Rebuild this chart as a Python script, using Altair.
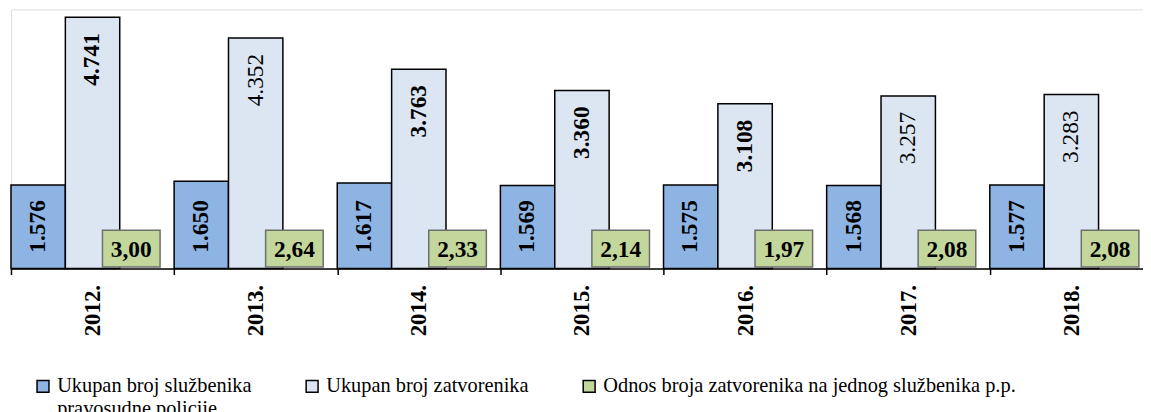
import altair as alt
import pandas as pd

years = ["2012.", "2013.", "2014.", "2015.", "2016.", "2017.", "2018."]
officers = [1576, 1650, 1617, 1569, 1575, 1568, 1577]
prisoners = [4741, 4352, 3763, 3360, 3108, 3257, 3283]
ratio = [3.00, 2.64, 2.33, 2.14, 1.97, 2.08, 2.08]
series = [
    "Ukupan broj službenika pravosudne policije",
    "Ukupan broj zatvorenika",
    "Odnos broja zatvorenika na jednog službenika p.p.",
]
colors = ["#8EB4E3", "#DCE6F2", "#C3D69B"]
# label weight as drawn in the source (bold / regular) for the prisoner labels
bold_prisoner_years = ["2012.", "2014.", "2015.", "2016."]

FONT = "Liberation Serif"
FS = 23.5

rows = []
for i, y in enumerate(years):
    rows.append({"year": y, "series": series[0], "value": officers[i]})
    rows.append({"year": y, "series": series[1], "value": prisoners[i]})
bars_df = pd.DataFrame(rows)
ratio_df = pd.DataFrame({"year": years, "ratio": ratio, "series": series[2]})
off_df = pd.DataFrame({"year": years, "value": officers})
pr_df = pd.DataFrame({"year": years, "value": prisoners,
                      "bold": [y in bold_prisoner_years for y in years]})

xscale = alt.X("year:N", sort=years,
               scale=alt.Scale(paddingInner=0, paddingOuter=0),
               axis=alt.Axis(title=None, labelAngle=270, labelFont=FONT,
                             labelFontSize=23, labelFontWeight="bold",
                             labelColor="black", domainColor="black",
                             domainWidth=1.5, tickColor="black", tickWidth=1.5,
                             tickSize=6, tickBand="extent", labelPadding=10,
                             labelAlign="right", labelBaseline="middle"))
yscale = alt.Scale(domain=[0, 4890], nice=False)

legend_expr = (
    "datum.label == '" + series[0] + "' ? ['Ukupan broj službenika', 'pravosudne policije'] "
    ": [datum.label, '']"
)

bars = alt.Chart(bars_df).mark_bar(stroke="black", strokeWidth=1.5).encode(
    x=xscale,
    xOffset=alt.XOffset("series:N", scale=alt.Scale(domain=series, paddingInner=0, paddingOuter=0)),
    y=alt.Y("value:Q", scale=yscale, axis=None),
    color=alt.Color("series:N", scale=alt.Scale(domain=series, range=colors),
                    legend=alt.Legend(
                        title=None, orient="none", direction="horizontal",
                        legendX=22, legendY=369, columns=3, columnPadding=50,
                        symbolType="square", symbolSize=144,
                        symbolStrokeColor="black", symbolStrokeWidth=1.5,
                        labelFont=FONT, labelFontSize=20.5, labelColor="black",
                        labelOffset=4, labelLimit=700, padding=0,
                        labelExpr=legend_expr,
                        labelBaseline="middle",
                    )),
)

lbl_thousands = "replace(format(datum.value, ','), ',', '.')"

off_text = alt.Chart(off_df).transform_calculate(
    lbl=lbl_thousands, zero="0"
).mark_text(angle=270, align="left", baseline="middle", dx=16, xOffset=-55,
            font=FONT, fontSize=FS, fontWeight="bold", color="black").encode(
    x=alt.X("year:N", sort=years), y=alt.Y("zero:Q", scale=yscale),
    text="lbl:N",
)

pr_bold = alt.Chart(pr_df).transform_filter("datum.bold").transform_calculate(
    lbl=lbl_thousands
).mark_text(angle=270, align="right", baseline="middle", dx=-16, xOffset=0,
            font=FONT, fontSize=FS, fontWeight="bold", color="black").encode(
    x=alt.X("year:N", sort=years), y=alt.Y("value:Q", scale=yscale), text="lbl:N")

pr_reg = alt.Chart(pr_df).transform_filter("!datum.bold").transform_calculate(
    lbl=lbl_thousands
).mark_text(angle=270, align="right", baseline="middle", dx=-16, xOffset=0,
            font=FONT, fontSize=FS, fontWeight="normal", color="black").encode(
    x=alt.X("year:N", sort=years), y=alt.Y("value:Q", scale=yscale), text="lbl:N")

box = alt.Chart(ratio_df).transform_calculate(zero="0").mark_point(
    shape="M-1,-0.638L1,-0.638L1,0.638L-1,0.638Z", size=3364, filled=True,
    fill="#C3D69B", stroke="#6E6E6E", strokeWidth=1.5, opacity=1,
    xOffset=39, yOffset=-20).encode(
    x=alt.X("year:N", sort=years), y=alt.Y("zero:Q", scale=yscale))

box_text = alt.Chart(ratio_df).transform_calculate(
    zero="0", lbl="replace(format(datum.ratio, '.2f'), '.', ',')"
).mark_text(align="center", baseline="middle", xOffset=39, yOffset=-19,
            font=FONT, fontSize=FS, fontWeight="bold", color="black").encode(
    x=alt.X("year:N", sort=years), y=alt.Y("zero:Q", scale=yscale), text="lbl:N")

chart = alt.layer(bars, off_text, pr_bold, pr_reg, box, box_text).properties(
    width=1150, height=261,
    autosize=alt.AutoSizeParams(type="none"),
    padding={"left": 3, "top": 0, "right": -10, "bottom": 143},
).configure_view(stroke=None).configure(background="white")

chart.save("out.html", embed_options={"renderer": "svg", "actions": False})
